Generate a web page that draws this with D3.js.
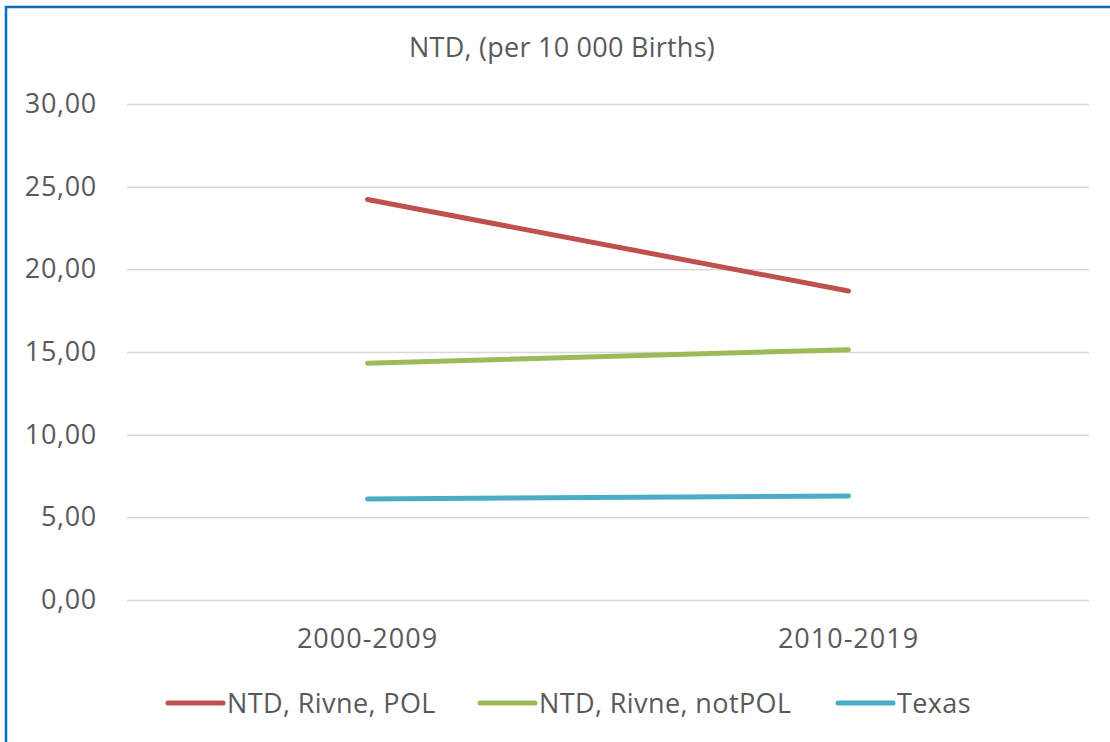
<!DOCTYPE html>
<html><head><meta charset="utf-8">
<script src="https://cdn.jsdelivr.net/npm/d3@7"></script>
<style>body{margin:0;background:#fff;}svg{display:block;font-family:"Open Sans",sans-serif;}</style>
</head><body>
<svg id="c" width="1110" height="742"></svg>
<script>
const categories = ["2000-2009", "2010-2019"];
const seriesNames = ["NTD, Rivne, POL", "NTD, Rivne, notPOL", "Texas"];
const seriesColors = ["#C0504D", "#9BBB59", "#4BACC6"];
const polValues = [24.22, 18.69];
const notPolValues = [14.32, 15.14];
const texasValues = [6.11, 6.29];
const yTicks = [0, 5, 10, 15, 20, 25, 30];
const title = "NTD, (per 10 000 Births)";

const series = [polValues, notPolValues, texasValues];
const svg = d3.select("#c");
svg.append("rect").attr("x",6).attr("y",7).attr("width",1120).attr("height",760)
  .attr("fill","#fff").attr("stroke","#0070C0").attr("stroke-width",2.5);

const x = d3.scaleBand().domain(categories).range([127,1089]);
const y = d3.scaleLinear().domain([0,30]).range([600,104]);

svg.append("text").attr("x",562).attr("y",57).attr("text-anchor","middle")
  .attr("font-size",27).attr("letter-spacing",0.25).attr("fill","#595959").text(title);

const yAxis = svg.append("g").attr("transform","translate(127,0)")
  .call(d3.axisLeft(y).tickValues(yTicks).tickSize(-962).tickPadding(30)
    .tickFormat(d => d3.format(".2f")(d).replace(".", ",")));
yAxis.select(".domain").remove();
yAxis.selectAll("line").attr("stroke","#d9d9d9").attr("stroke-width",1.5);
yAxis.selectAll("text").attr("font-size",27).attr("letter-spacing",0.7).attr("fill","#595959").attr("font-family","Open Sans");

const xAxis = svg.append("g").attr("transform","translate(0,600)")
  .call(d3.axisBottom(x).tickSize(0).tickPadding(29));
xAxis.select(".domain").remove();
xAxis.selectAll("text").attr("font-size",27).attr("letter-spacing",1).attr("fill","#595959").attr("font-family","Open Sans");

const line = d3.line().x((d,i)=>x(categories[i])+x.bandwidth()/2).y(d=>y(d));
series.forEach((s,i)=>{
  svg.append("path").datum(s).attr("d",line).attr("fill","none")
    .attr("stroke",seriesColors[i]).attr("stroke-width",5).attr("stroke-linecap","round");
});

const legendX = [168, 480, 838];
const leg = svg.append("g");
seriesNames.forEach((n,i)=>{
  leg.append("line").attr("x1",legendX[i]).attr("x2",legendX[i]+55).attr("y1",703).attr("y2",703)
    .attr("stroke",seriesColors[i]).attr("stroke-width",5).attr("stroke-linecap","round");
  leg.append("text").attr("x",legendX[i]+59).attr("y",713).attr("font-size",27).attr("letter-spacing",0.4)
    .attr("fill","#595959").text(n);
});
</script>
</body></html>
